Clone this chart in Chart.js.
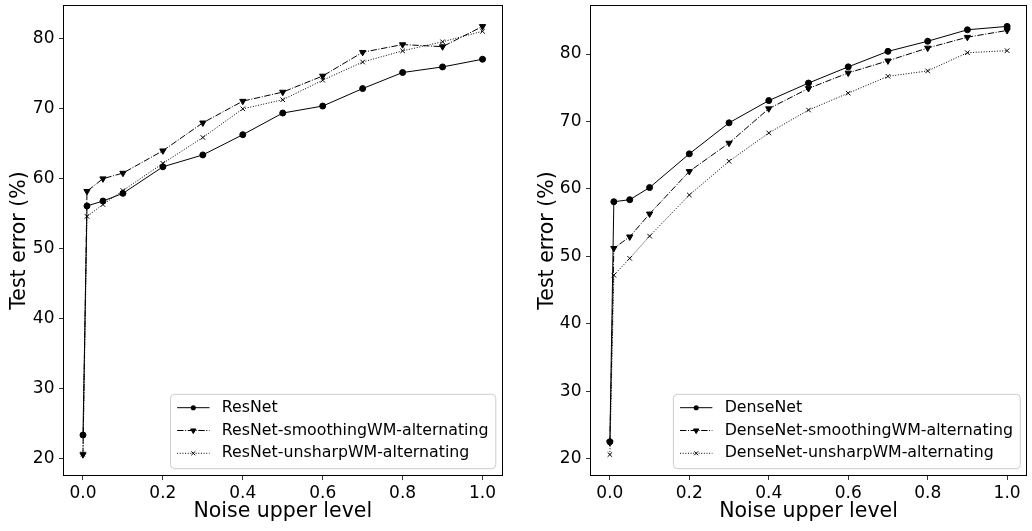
<!DOCTYPE html>
<html><head><meta charset="utf-8">
<script src="https://cdn.jsdelivr.net/npm/chart.js@4.4.0/dist/chart.umd.min.js"></script>
<style>
html,body{margin:0;padding:0;background:#fff;}
#wrap{position:relative;width:1032px;height:531px;overflow:hidden;}
canvas{position:absolute;top:0;}
</style></head><body>
<div id="wrap">
<canvas id="c1" width="516" height="531" style="left:0"></canvas>
<canvas id="c2" width="516" height="531" style="left:516px"></canvas>
</div>
<script>
// ---- data ----
const noiseLevels = [0, 0.01, 0.05, 0.1, 0.2, 0.3, 0.4, 0.5, 0.6, 0.7, 0.8, 0.9, 1.0];
const resnet            = [23.3, 56.1, 56.8, 57.9, 61.7, 63.4, 66.3, 69.4, 70.4, 72.9, 75.2, 76.0, 77.1];
const resnetSmoothing   = [20.5, 58.2, 60.0, 60.8, 64.0, 68.0, 71.1, 72.4, 74.7, 78.1, 79.2, 78.9, 81.8];
const resnetUnsharp     = [20.6, 54.6, 56.3, 58.3, 62.2, 65.9, 70.0, 71.3, 74.1, 76.7, 78.3, 79.6, 81.1];
const densenet          = [22.5, 58.1, 58.4, 60.2, 65.2, 69.8, 73.1, 75.7, 78.1, 80.4, 81.9, 83.6, 84.1];
const densenetSmoothing = [22.4, 51.2, 52.9, 56.3, 62.6, 66.8, 71.9, 74.9, 77.2, 79.0, 80.9, 82.5, 83.5];
const densenetUnsharp   = [20.6, 47.2, 49.7, 53.0, 59.1, 64.1, 68.3, 71.7, 74.2, 76.7, 77.5, 80.2, 80.5];
const xTickValues = [0, 0.2, 0.4, 0.6, 0.8, 1.0];
const xTickLabels = ['0.0', '0.2', '0.4', '0.6', '0.8', '1.0'];
const yTickValues = [20, 30, 40, 50, 60, 70, 80];
const yTickLabels = ['20', '30', '40', '50', '60', '70', '80'];
const labelsLeft = ['ResNet', 'ResNet-smoothingWM-alternating', 'ResNet-unsharpWM-alternating'];
const labelsRight = ['DenseNet', 'DenseNet-smoothingWM-alternating', 'DenseNet-unsharpWM-alternating'];

const FONT = '"DejaVu Sans", "Liberation Sans", sans-serif';
const styles = [
  {pointStyle: 'circle', radius: 3.0, dash: []},
  {pointStyle: 'triangle', radius: 3.6, dash: [6.4, 1.6, 1, 1.6]},
  {pointStyle: 'crossRot', radius: 3.2, dash: [1, 1.65]}
];

function pairs(vals) { return noiseLevels.map((x, i) => ({x: x, y: vals[i]})); }

function makeDatasets(labels, series) {
  return series.map((vals, i) => ({
    label: labels[i],
    data: pairs(vals),
    showLine: true,
    borderColor: '#000',
    backgroundColor: '#000',
    borderWidth: 1,
    borderDash: styles[i].dash,
    pointStyle: styles[i].pointStyle,
    pointRadius: styles[i].radius,
    pointRotation: styles[i].pointStyle === 'triangle' ? 180 : 0,
    pointBorderWidth: 1,
    pointBorderColor: '#000',
    pointBackgroundColor: '#000',
    tension: 0
  }));
}

function drawMarker(ctx, style, x, y, r) {
  ctx.save();
  ctx.fillStyle = '#000'; ctx.strokeStyle = '#000'; ctx.lineWidth = 1; ctx.setLineDash([]);
  ctx.beginPath();
  if (style === 'circle') {
    ctx.arc(x, y, r, 0, Math.PI * 2); ctx.fill();
  } else if (style === 'triangle') {
    ctx.translate(x, y); ctx.rotate(Math.PI);
    ctx.moveTo(0, -r); ctx.lineTo(r * 0.866, r * 0.5); ctx.lineTo(-r * 0.866, r * 0.5); ctx.closePath();
    ctx.fill(); ctx.stroke();
  } else {
    const d = r * 0.7071;
    ctx.moveTo(x - d, y - d); ctx.lineTo(x + d, y + d);
    ctx.moveTo(x + d, y - d); ctx.lineTo(x - d, y + d); ctx.stroke();
  }
  ctx.restore();
}

const framePlugin = {
  id: 'frame',
  afterDatasetsDraw(chart) {
    const {ctx, chartArea: a} = chart;
    ctx.save();
    ctx.strokeStyle = '#000'; ctx.lineWidth = 1; ctx.setLineDash([]);
    ctx.strokeRect(Math.round(a.left) + 0.5, Math.round(a.top) + 0.5,
      Math.round(a.right - a.left) - 1, Math.round(a.bottom - a.top) - 1);
    ctx.restore();
  }
};

const legendPlugin = {
  id: 'mplLegend',
  afterDraw(chart) {
    const ctx = chart.ctx, a = chart.chartArea;
    ctx.save();
    ctx.font = '15.8px ' + FONT;
    const ds = chart.data.datasets;
    const tw = Math.max(...ds.map(d => ctx.measureText(d.label).width));
    const w = 51.3 + tw + 7.3, h = 74.4;
    const right = a.right - 6.7, bottom = a.bottom - 7.3;
    const left = right - w, top = bottom - h;
    const r = 4;
    ctx.beginPath();
    ctx.moveTo(left + r, top);
    ctx.lineTo(right - r, top); ctx.quadraticCurveTo(right, top, right, top + r);
    ctx.lineTo(right, bottom - r); ctx.quadraticCurveTo(right, bottom, right - r, bottom);
    ctx.lineTo(left + r, bottom); ctx.quadraticCurveTo(left, bottom, left, bottom - r);
    ctx.lineTo(left, top + r); ctx.quadraticCurveTo(left, top, left + r, top);
    ctx.closePath();
    ctx.fillStyle = 'rgba(255,255,255,0.8)'; ctx.fill();
    ctx.strokeStyle = '#cccccc'; ctx.lineWidth = 1; ctx.stroke();
    ds.forEach((d, i) => {
      const y = top + 13.4 + i * 22.8;
      ctx.strokeStyle = '#000'; ctx.lineWidth = 1; ctx.setLineDash(d.borderDash || []);
      ctx.beginPath(); ctx.moveTo(left + 6.6, y); ctx.lineTo(left + 39, y); ctx.stroke();
      ctx.setLineDash([]);
      drawMarker(ctx, d.pointStyle, left + 22.8, y, d.pointRadius * 0.85);
      ctx.fillStyle = '#000'; ctx.textBaseline = 'middle'; ctx.textAlign = 'left';
      ctx.fillText(d.label, left + 51.3, y);
    });
    ctx.restore();
  }
};

function makeChart(id, labels, series, yAxisWidth, rightPad, yTitlePad) {
  const all = series.flat();
  const mn = Math.min(...all), mx = Math.max(...all), rng = mx - mn;
  return new Chart(document.getElementById(id), {
    type: 'scatter',
    data: {datasets: makeDatasets(labels, series)},
    options: {
      responsive: false, animation: false, devicePixelRatio: 1,
      layout: {padding: {top: 5, right: rightPad, left: 0, bottom: 0}},
      plugins: {legend: {display: false}, tooltip: {enabled: false}},
      scales: {
        x: {
          type: 'linear', min: -0.05, max: 1.05,
          afterFit(s) { s.height = 55; s.paddingLeft = 0; s.paddingRight = 0; },
          afterBuildTicks(s) { s.ticks = xTickValues.map(v => ({value: v})); },
          ticks: {
            callback: (v) => xTickLabels[xTickValues.indexOf(v)] ?? '',
            font: {family: FONT, size: 17}, color: '#000', padding: 3, maxRotation: 0, autoSkip: false
          },
          grid: {display: true, drawOnChartArea: false, drawTicks: true, tickLength: 4, color: '#000', lineWidth: 0.8},
          border: {display: false},
          title: {display: true, text: 'Noise upper level', font: {family: FONT, size: 20.5}, color: '#000',
            padding: {top: 0, bottom: 7.5}}
        },
        y: {
          type: 'linear', min: mn - 0.05 * rng, max: mx + 0.05 * rng,
          afterFit(s) { s.width = yAxisWidth; s.paddingTop = 0; s.paddingBottom = 0; },
          afterBuildTicks(s) { s.ticks = yTickValues.map(v => ({value: v})); },
          ticks: {
            callback: (v) => yTickLabels[yTickValues.indexOf(v)] ?? '',
            font: {family: FONT, size: 17}, color: '#000', padding: 4.5, autoSkip: false
          },
          grid: {display: true, drawOnChartArea: false, drawTicks: true, tickLength: 4, color: '#000', lineWidth: 0.8},
          border: {display: false},
          title: {display: true, text: 'Test error (%)', font: {family: FONT, size: 20.5}, color: '#000',
            padding: {top: yTitlePad, bottom: 0}}
        }
      }
    },
    plugins: [framePlugin, legendPlugin]
  });
}

makeChart('c1', labelsLeft, [resnet, resnetSmoothing, resnetUnsharp], 63, 13.5, 7.5);
makeChart('c2', labelsRight, [densenet, densenetSmoothing, densenetUnsharp], 74, 3, 19.5);
</script>
</body></html>
